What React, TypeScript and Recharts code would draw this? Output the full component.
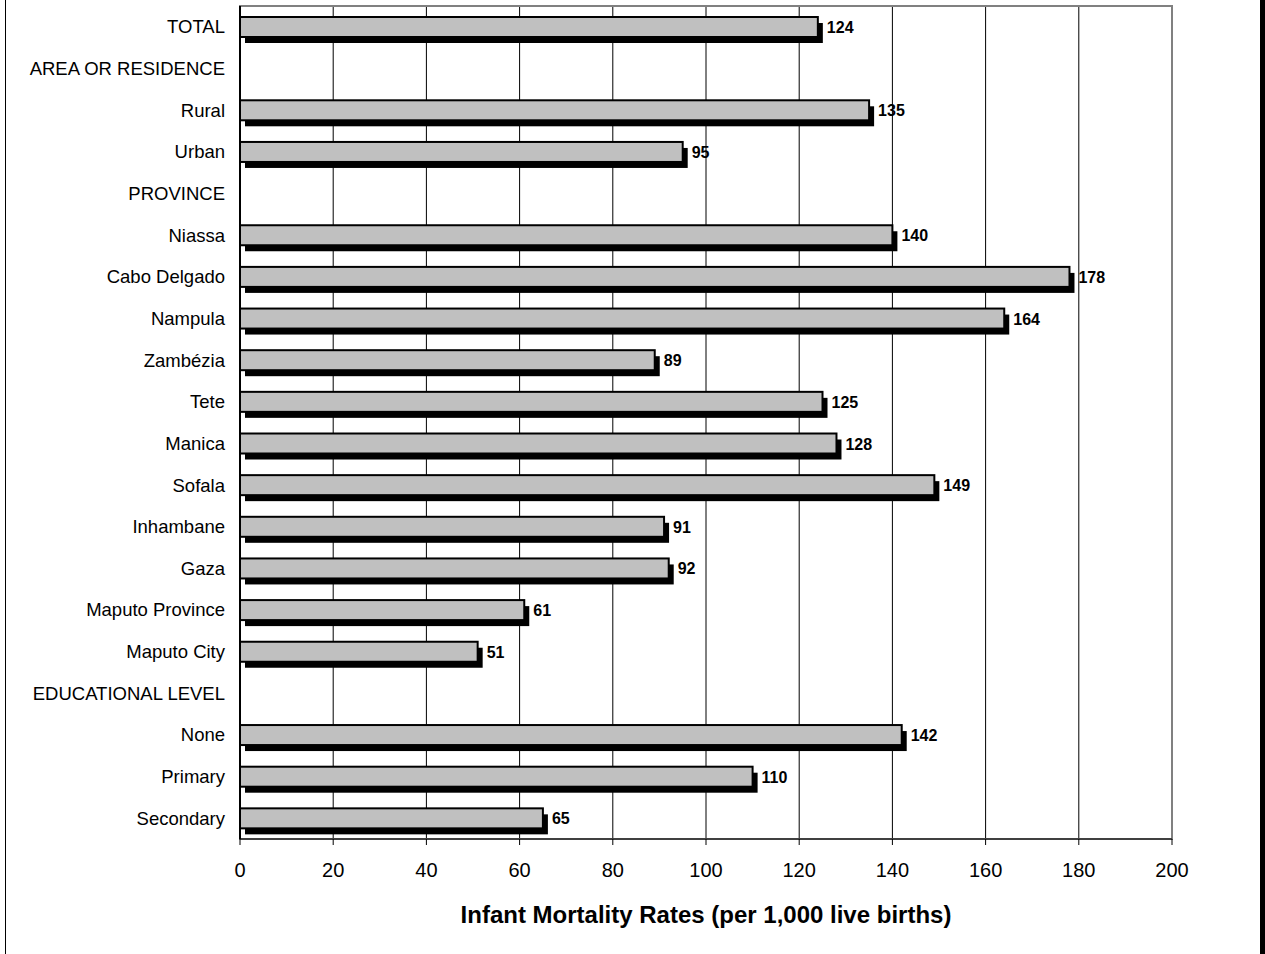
import { BarChart, Bar, XAxis, YAxis, CartesianGrid, LabelList, ReferenceArea } from 'recharts';

const categories = [
  'TOTAL',
  'AREA OR RESIDENCE',
  'Rural',
  'Urban',
  'PROVINCE',
  'Niassa',
  'Cabo Delgado',
  'Nampula',
  'Zambézia',
  'Tete',
  'Manica',
  'Sofala',
  'Inhambane',
  'Gaza',
  'Maputo Province',
  'Maputo City',
  'EDUCATIONAL LEVEL',
  'None',
  'Primary',
  'Secondary',
];

const rates: Array<number | null> = [
  124, null, 135, 95, null, 140, 178, 164, 89, 125, 128, 149, 91, 92, 61, 51, null, 142, 110, 65,
];

const xTicks = [0, 20, 40, 60, 80, 100, 120, 140, 160, 180, 200];

const data = categories.map((name, i) => ({ name, value: rates[i] }));

const FONT = '"Liberation Sans", Arial, sans-serif';

const ShadowBar = (props: any) => {
  const { x, y, width, height } = props;
  if (!width || width <= 0) return null;
  return (
    <g>
      <rect x={x + 5} y={y + 6} width={width} height={height} fill="#000" />
      <rect x={x} y={y} width={width} height={height} fill="#C0C0C0" stroke="#000" strokeWidth={2} />
    </g>
  );
};

const ValueLabel = (props: any) => {
  const { x, y, width, height, value } = props;
  if (value == null) return null;
  return (
    <text
      x={x + width + 9}
      y={y + height / 2}
      dy={6}
      fontFamily={FONT}
      fontSize={16}
      fontWeight="bold"
      fill="#000"
    >
      {value}
    </text>
  );
};

export default function App() {
  return (
    <div
      style={{
        position: 'absolute',
        left: 0,
        top: 0,
        width: 1265,
        height: 954,
        background: '#fff',
      }}
    >
      <div style={{ position: 'absolute', left: 5, top: 0, width: 1, height: 954, background: '#000' }} />
      <div style={{ position: 'absolute', left: 1260, top: 0, width: 5, height: 954, background: '#000' }} />
      <BarChart
        width={1265}
        height={954}
        data={data}
        layout="vertical"
        margin={{ top: 6, right: 93, bottom: 0, left: 5 }}
        barCategoryGap={0}
        style={{ fontFamily: FONT }}
      >
        <ReferenceArea x1={0} x2={200} fill="none" stroke="#808080" strokeWidth={2} />
        <CartesianGrid horizontal={false} stroke="#000" strokeWidth={1} />
        <XAxis
          type="number"
          domain={[0, 200]}
          ticks={xTicks}
          interval={0}
          height={115}
          tickSize={6}
          tickMargin={18}
          stroke="#000"
          tick={{ fill: '#000', fontSize: 20, fontFamily: FONT }}
          label={{
            value: 'Infant Mortality Rates (per 1,000 live births)',
            position: 'insideBottom',
            offset: 31,
            fill: '#000',
            fontSize: 24,
            fontWeight: 'bold',
            fontFamily: FONT,
          }}
        />
        <YAxis
          type="category"
          dataKey="name"
          width={235}
          interval={0}
          tickLine={false}
          tickSize={0}
          tickMargin={15}
          stroke="#000"
          strokeWidth={2}
          tick={{ fill: '#000', fontSize: 18.5, fontFamily: FONT }}
        />
        <Bar dataKey="value" barSize={20} shape={<ShadowBar />} isAnimationActive={false}>
          <LabelList dataKey="value" content={<ValueLabel />} />
        </Bar>
      </BarChart>
    </div>
  );
}
